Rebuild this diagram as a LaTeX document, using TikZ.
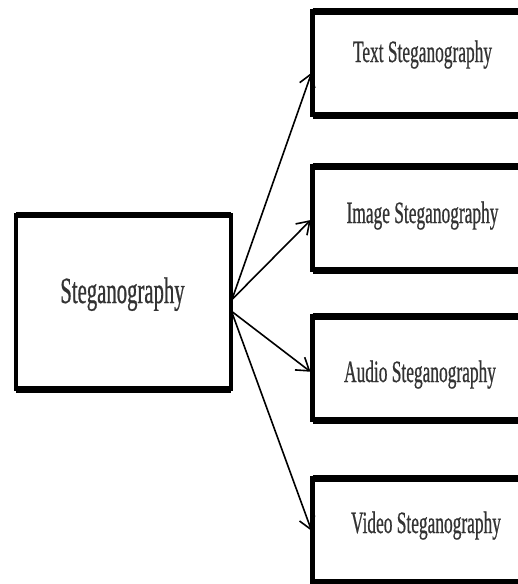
\documentclass[tikz,border=0pt]{standalone}
\usepackage{fontspec}
\newfontfamily\condfont[FakeStretch=0.56,FakeBold=0.6]{Liberation Serif}
\usetikzlibrary{arrows.meta,calc}
\begin{document}
\begin{tikzpicture}[x=1pt,y=-1pt,
  box/.style={draw=black, line width=4.5pt, minimum width=221pt, minimum height=103.5pt, inner sep=0pt, outer sep=0pt},
  mainbox/.style={draw=black, line width=4pt, minimum width=214.5pt, minimum height=174pt, inner sep=0pt, outer sep=0pt},
  edge/.style={line width=7pt},
  lbl/.style={font=\condfont\fontsize{31}{36}\selectfont, text=black!80, anchor=base, inner sep=0pt},
  mainlbl/.style={font=\condfont\fontsize{37}{42}\selectfont, text=black!80, anchor=base, inner sep=0pt},
  conn/.style={-{Straight Barb[length=12pt,width=16pt,line width=1.6pt]}, line width=1.6pt, shorten >=2.5pt}
]
\useasboundingbox (0,0) rectangle (518,584);
\clip (0,0) rectangle (518,584);

% main box
\node[mainbox] (main) at (123.25,302) {};
\draw[line width=6pt] (main.north west) -- (main.north east);
\draw[edge] (main.south west) -- (main.south east);
\node[mainlbl] (mainT) at (122.5,303) {Steganography};

% right boxes
\node[box] (t) at (423,63.25) {};
\node[box] (i) at (423,218.25) {};
\node[box] (a) at (423,368.25) {};
\node[box] (v) at (423,530.25) {};
\foreach \n in {t,i,a,v}{
  \draw[edge] (\n.north west) -- (\n.north east);
  \draw[edge] (\n.south west) -- (\n.south east);
}
\node[lbl] (tT) at (422.5,62) {Text Steganography};
\node[lbl] (iT) at (422.5,223) {Image Steganography};
\node[lbl] (aT) at (420,382) {Audio Steganography};
\node[lbl] (vT) at (426,533) {Video Steganography};

% connectors
\draw[conn] ($(main.east)+(2,-4)$) -- ($(t.west)+(0,7)$);
\draw[conn] ($(main.east)+(2,-3)$) -- ($(i.west)+(0,0)$);
\draw[conn] ($(main.east)+(2,10)$) -- ($(a.west)+(0,5)$);
\draw[conn] ($(main.east)+(2,12)$) -- ($(v.west)+(0,3)$);
\end{tikzpicture}
\end{document}
